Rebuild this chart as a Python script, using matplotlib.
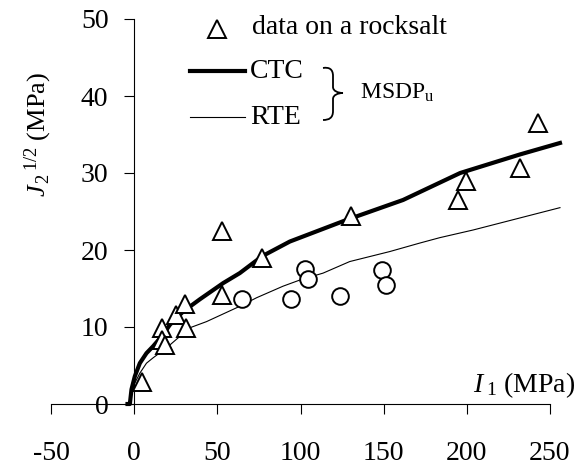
import matplotlib
matplotlib.use("Agg")
import matplotlib.pyplot as plt
from matplotlib.lines import Line2D
from matplotlib.path import Path
from matplotlib.patches import PathPatch

plt.rcParams['font.family'] = ['Liberation Serif', 'DejaVu Serif']
plt.rcParams['mathtext.fontset'] = 'custom'
plt.rcParams['mathtext.rm'] = 'Liberation Serif'
plt.rcParams['mathtext.it'] = 'Liberation Serif:italic'

# Data on a rocksalt (triangles)
tri_x = [5.0, 17.0, 17.0, 18.4, 25.0, 30.5, 31.0, 53.0, 53.0, 77.0, 130.6, 199.4, 194.7, 231.8, 242.8]
tri_y = [2.9, 9.9, 8.35, 7.7, 11.6, 13.0, 9.9, 14.2, 22.5, 19.0, 24.4, 28.9, 26.5, 30.6, 36.5]

# Circles (second data set, not in legend)
circ_x = [65.0, 94.0, 102.5, 104.5, 123.5, 149.0, 151.5]
circ_y = [13.6, 13.6, 17.5, 16.2, 14.0, 17.4, 15.5]

# MSDPu CTC curve
ctc_x = [-4.0, -2.6, -1.6, 0.4, 3.4, 7.4, 11.4, 17.4, 21.5, 29.4, 39.5, 53.5, 63.5, 77.0, 93.6, 127.6, 161.7, 196.0, 231.8, 256.0]
ctc_y = [0.0, 0.0, 1.9, 3.6, 5.3, 6.6, 7.5, 9.0, 10.3, 12.0, 13.6, 15.7, 17.0, 19.2, 21.1, 23.9, 26.5, 30.0, 32.4, 33.9]

# MSDPu RTE curve
rte_x = [-2.6, -0.6, 3.4, 7.4, 11.4, 19.5, 33.5, 43.5, 63.6, 73.6, 89.5, 99.6, 113.6, 129.6, 153.7, 171.7, 183.7, 203.8, 256.0]
rte_y = [0.0, 2.3, 4.0, 5.3, 6.0, 7.3, 9.9, 10.7, 12.7, 13.8, 15.3, 16.1, 17.0, 18.5, 19.8, 20.9, 21.6, 22.6, 25.5]

xticks = [-50, 0, 50, 100, 150, 200, 250]
yticks = [0, 10, 20, 30, 40, 50]

W, H = 577, 467
fig = plt.figure(figsize=(W / 100, H / 100), dpi=100)
L, R, T, B = 51, 550, 19, 404
ax = fig.add_axes([L / W, 1 - B / H, (R - L) / W, (B - T) / H])
ax.set_xlim(-50, 250)
ax.set_ylim(0, 50)

FS = 20

ax.plot(rte_x, rte_y, color='black', lw=0.8, clip_on=False, zorder=2)
ax.plot(ctc_x, ctc_y, color='black', lw=3.0, clip_on=False, zorder=3)
ax.plot(tri_x, tri_y, ls='none', marker='^', ms=13, mfc='white', mec='black', mew=1.4, clip_on=False, zorder=4)
ax.plot(circ_x, circ_y, ls='none', marker='o', ms=12, mfc='white', mec='black', mew=1.4, clip_on=False, zorder=4)

for s in ['top', 'right']:
    ax.spines[s].set_visible(False)
ax.spines['left'].set_position(('data', 0))
ax.spines['bottom'].set_position(('data', 0))
for s in ['left', 'bottom']:
    ax.spines[s].set_linewidth(0.8)

ax.set_xticks(xticks)
ax.set_yticks(yticks)
ax.set_xticklabels([str(v) for v in xticks])
ax.set_yticklabels([str(v) for v in yticks])
ax.tick_params(axis='x', direction='out', length=7.5, width=0.8, labelsize=FS, pad=19)
ax.tick_params(axis='y', direction='out', length=7.5, width=0.8, labelsize=FS, pad=11)

def fx(px):
    return px / W

def fy(py):
    return 1 - py / H

# axis labels
fig.text(fx(38), fy(134), r'$J_{\,2}{}^{\,1/2}$ (MPa)', rotation=90, ha='center', va='center', fontsize=19)
fig.text(fx(575), fy(385), r'$I_{\;1}$ (MPa)', ha='right', va='center', fontsize=FS)

# legend
fig.add_artist(Line2D([fx(217)], [fy(29)], transform=fig.transFigure, ls='none', marker='^', ms=13,
                      mfc='white', mec='black', mew=1.4))
fig.text(fx(252), fy(28), 'data on a rocksalt', ha='left', va='center', fontsize=FS)
fig.add_artist(Line2D([fx(190), fx(245)], [fy(71), fy(71)], transform=fig.transFigure, color='black', lw=3.0))
fig.text(fx(250), fy(71), 'CTC', ha='left', va='center', fontsize=FS)
fig.add_artist(Line2D([fx(190), fx(245)], [fy(117), fy(117)], transform=fig.transFigure, color='black', lw=0.8))
fig.text(fx(250), fy(117), 'RTE', ha='left', va='center', fontsize=FS)

# brace
verts = [(323, 68), (329, 67), (333, 69), (333, 76),
         (333, 87),
         (333, 91), (338, 93), (343, 93),
         (338, 93), (333, 95), (333, 99),
         (333, 111),
         (333, 118), (329, 120), (323, 120)]
codes = [Path.MOVETO, Path.CURVE4, Path.CURVE4, Path.CURVE4,
         Path.LINETO,
         Path.CURVE4, Path.CURVE4, Path.CURVE4,
         Path.CURVE4, Path.CURVE4, Path.CURVE4,
         Path.LINETO,
         Path.CURVE4, Path.CURVE4, Path.CURVE4]
verts = [(fx(x), fy(y)) for x, y in verts]
fig.add_artist(PathPatch(Path(verts, codes), transform=fig.transFigure, fill=False, lw=1.3, ec='black'))
fig.text(fx(360), fy(93), r'MSDP$_{\mathrm{u}}$', ha='left', va='center', fontsize=17)

fig.savefig('out.png', dpi=100)
